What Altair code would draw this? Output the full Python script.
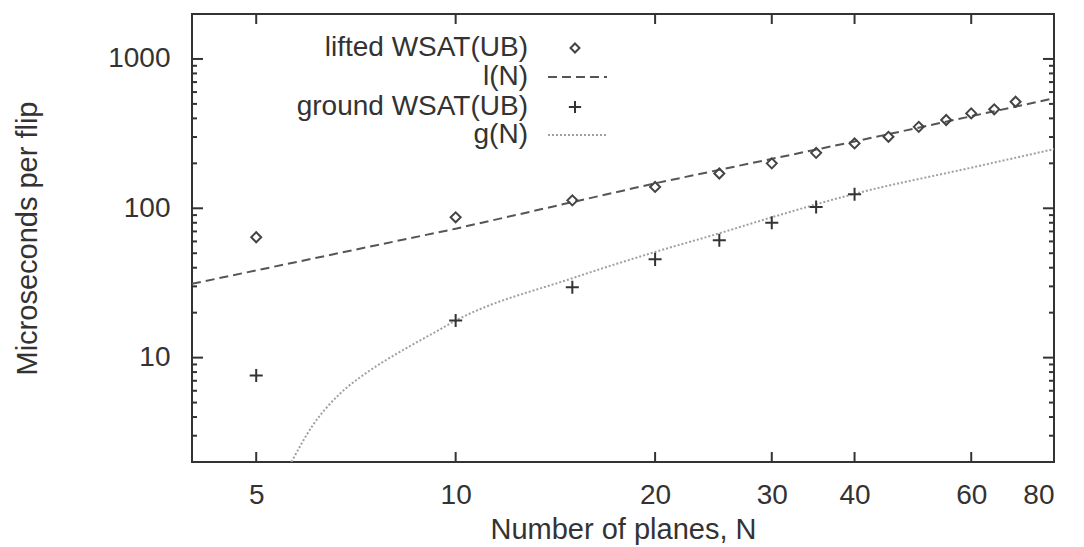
import altair as alt
import pandas as pd

# ---- data ----
n_points = [5, 10, 15, 20, 25, 30, 35, 40, 45, 50, 55, 60, 65, 70]
lifted_vals = [64, 87, 113, 139, 171, 200, 235, 272, 301, 351, 390, 432, 460, 517]

ground_n = [5, 10, 15, 20, 25, 30, 35, 40]
ground_vals = [7.6, 17.7, 29.6, 45.5, 61, 80, 102, 124]

l_n = [4, 10, 20, 40, 80]
l_vals = [31.2, 73, 147, 280, 545]

g_n = [5.65, 6.08, 6.68, 7.33, 8.14, 9.23, 10, 15, 20, 25, 30, 40, 60, 80]
g_vals = [2.0, 3.5, 5.7, 7.9, 10.6, 14.5, 17.7, 34, 51, 68, 87, 125, 187, 249]

x_ticks = [5, 10, 20, 30, 40, 60, 80]
y_major = [10, 100, 1000]
y_minor = [3, 4, 5, 6, 7, 8, 9, 20, 30, 40, 50, 60, 70, 80, 90,
           200, 300, 400, 500, 600, 700, 800, 900]

legend_labels = ["lifted WSAT(UB)", "l(N)", "ground WSAT(UB)", "g(N)"]

W, H = 862, 448
FONT = "Liberation Sans"
INK = "#333333"

xs = alt.Scale(type="log", domain=[4, 80], nice=False)
ys = alt.Scale(type="log", domain=[2, 2000], nice=False)

x_axis = alt.Axis(values=x_ticks, format="d", ticks=False, tickSize=0,
                  domain=False, grid=False, labelPadding=19,
                  labelFontSize=28, labelFont=FONT, labelColor=INK,
                  titleFontSize=29, titleFont=FONT, titleColor=INK,
                  titleFontWeight="normal", titleBaseline="alphabetic",
                  titleY=76)
y_axis = alt.Axis(values=y_major, format="d", ticks=False, tickSize=0,
                  domain=False, grid=False, labelPadding=22,
                  labelFontSize=28, labelFont=FONT, labelColor=INK,
                  titleFontSize=29, titleFont=FONT, titleColor=INK,
                  titleFontWeight="normal", titleBaseline="alphabetic",
                  titleX=-156, titleY=H / 2)

X = alt.X("n:Q", scale=xs, title="Number of planes, N", axis=x_axis)
Y = alt.Y("v:Q", scale=ys, title="Microseconds per flip", axis=y_axis)

l_df = pd.DataFrame({"n": l_n, "v": l_vals})
g_df = pd.DataFrame({"n": g_n, "v": g_vals})
lift_df = pd.DataFrame({"n": n_points, "v": lifted_vals})
ground_df = pd.DataFrame({"n": ground_n, "v": ground_vals})

l_line = alt.Chart(l_df).mark_line(color="#555555", strokeWidth=2,
                                   strokeDash=[9, 5], clip=True).encode(x=X, y=Y)
g_line = alt.Chart(g_df).mark_line(color="#a0a0a0", strokeWidth=2, interpolate="monotone",
                                   strokeDash=[2, 2], clip=True).encode(x=X, y=Y)
lift_pts = alt.Chart(lift_df).mark_point(shape="diamond", size=100, filled=False,
                                         strokeWidth=2, color="#444444",
                                         opacity=1).encode(x=X, y=Y)
ground_pts = alt.Chart(ground_df).mark_point(shape="M-1,0H1M0,-1V1", size=170,
                                             filled=False, strokeWidth=2,
                                             color=INK, opacity=1).encode(x=X, y=Y)

ymaj_df = pd.DataFrame({"v": y_major})
ymin_df = pd.DataFrame({"v": y_minor})
xt_df = pd.DataFrame({"n": x_ticks[:-1]})

tick_layers = [
    alt.Chart(ymaj_df).mark_rule(color=INK, strokeWidth=2).encode(
        y=Y, x=alt.value(0), x2=alt.value(11)),
    alt.Chart(ymaj_df).mark_rule(color=INK, strokeWidth=2).encode(
        y=Y, x=alt.value(W - 11), x2=alt.value(W)),
    alt.Chart(ymin_df).mark_rule(color=INK, strokeWidth=2).encode(
        y=Y, x=alt.value(0), x2=alt.value(5)),
    alt.Chart(ymin_df).mark_rule(color=INK, strokeWidth=2).encode(
        y=Y, x=alt.value(W - 5), x2=alt.value(W)),
    alt.Chart(xt_df).mark_rule(color=INK, strokeWidth=2).encode(
        x=X, y=alt.value(H - 10), y2=alt.value(H)),
    alt.Chart(xt_df).mark_rule(color=INK, strokeWidth=2).encode(
        x=X, y=alt.value(0), y2=alt.value(10)),
]

# ---- legend (inside plot, top-left, labels right-aligned, symbols right) ----
row_y = [34, 63, 93, 121]
LX, SX, L0, L1 = 336, 383, 356, 415
legend_layers = []
for lab, yy in zip(legend_labels, row_y):
    legend_layers.append(
        alt.Chart(pd.DataFrame({"t": [lab]})).mark_text(
            align="right", baseline="middle", font=FONT, fontSize=28, color=INK
        ).encode(x=alt.value(LX), y=alt.value(yy), text="t:N"))
legend_layers.append(
    alt.Chart(pd.DataFrame({"t": [legend_labels[0]]})).mark_point(
        shape="diamond", size=80, filled=False, strokeWidth=2, color="#444444", opacity=1
    ).encode(x=alt.value(SX), y=alt.value(row_y[0])))
legend_layers.append(
    alt.Chart(pd.DataFrame({"t": [legend_labels[1]]})).mark_rule(
        color="#555555", strokeWidth=2, strokeDash=[9, 5]
    ).encode(x=alt.value(L0), x2=alt.value(L1), y=alt.value(row_y[1])))
legend_layers.append(
    alt.Chart(pd.DataFrame({"t": [legend_labels[2]]})).mark_point(
        shape="M-1,0H1M0,-1V1", size=150, filled=False, strokeWidth=2, color=INK, opacity=1
    ).encode(x=alt.value(SX), y=alt.value(row_y[2])))
legend_layers.append(
    alt.Chart(pd.DataFrame({"t": [legend_labels[3]]})).mark_rule(
        color="#a0a0a0", strokeWidth=2, strokeDash=[2, 2]
    ).encode(x=alt.value(L0), x2=alt.value(L1), y=alt.value(row_y[3])))

chart = alt.layer(l_line, g_line, lift_pts, ground_pts, *tick_layers, *legend_layers).properties(
    width=W, height=H,
    autosize=alt.AutoSizeParams(type="none"),
    padding={"left": 192, "top": 14, "right": 30, "bottom": 85},
    background="white",
).configure_view(stroke=INK, strokeWidth=2)

chart.save("out.html", embed_options={"renderer": "svg", "actions": False})
